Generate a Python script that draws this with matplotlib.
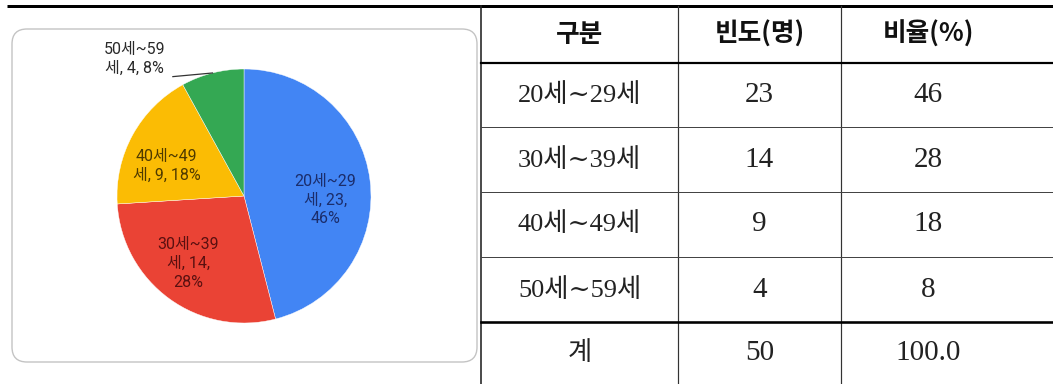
import matplotlib
matplotlib.use("Agg")
import matplotlib.pyplot as plt
from matplotlib.patches import FancyBboxPatch
import numpy as np

# ---- data ----
age_groups = ["20세~29세", "30세~39세", "40세~49세", "50세~59세"]
pie_labels = ["20세~29\n세, 23,\n46%", "30세~39\n세, 14,\n28%", "40세~49\n세, 9, 18%", "50세~59\n세, 4, 8%"]
counts = [23, 14, 9, 4]
ratios = ["46", "28", "18", "8"]
total_label = "계"
total_count = "50"
total_ratio = "100.0"
headers = ["구분", "빈도(명)", "비율(%)"]
table_groups = ["20세∼29세", "30세∼39세", "40세∼49세", "50세∼59세"]

colors = ["#4285F4", "#EA4335", "#FBBC04", "#34A853"]
label_colors = ["#1b2d6b", "#5a1010", "#4f3a00", "#2a2a2a"]

W, H = 1053, 384
fig = plt.figure(figsize=(W / 100, H / 100), dpi=100)
fig.patch.set_facecolor("white")

# background axes in pixel coordinates
bg = fig.add_axes([0, 0, 1, 1])
bg.set_xlim(0, W)
bg.set_ylim(H, 0)
bg.axis("off")

# rounded frame around the chart
frame = FancyBboxPatch((12, 29), 465, 333, boxstyle="round,pad=0,rounding_size=15",
                       facecolor="white", edgecolor="#c4c4c4", linewidth=1.0)
bg.add_patch(frame)

# table lines
px = 0.72  # points per pixel
bg.plot([7, W], [6, 6], color="black", lw=3 * px, solid_capstyle="butt")
bg.plot([481, 481], [6, H], color="#222222", lw=1.6 * px)
for x in [678, 841]:
    bg.plot([x, x], [6, H], color="#333333", lw=1.2 * px)
bg.plot([481, W], [62.5, 62.5], color="black", lw=2.2 * px)
for y in [127, 192, 257]:
    bg.plot([481, W], [y, y], color="#444444", lw=1.0 * px)
bg.plot([481, W], [322, 322], color="black", lw=2.6 * px)

col_centers = [579.5, 759.5, 928]
row_centers = [34, 95, 160, 224, 290, 353]

cell_family = ["Liberation Serif", "DejaVu Serif", "Noto Sans CJK KR"]
for c, h in zip(col_centers, headers):
    bg.text(c, row_centers[0], h, ha="center", va="center", fontsize=18.5,
            family=["Noto Sans CJK KR", "DejaVu Sans"], fontweight="bold", color="#111111")

for i, (g, n, r) in enumerate(zip(table_groups, counts, ratios)):
    y = row_centers[i + 1]
    bg.text(col_centers[0], y, g, ha="center", va="center", fontsize=19,
            family=cell_family, color="#222222")
    bg.text(col_centers[1], y, str(n), ha="center", va="center", fontsize=21,
            family=cell_family, color="#222222")
    bg.text(col_centers[2], y, r, ha="center", va="center", fontsize=21,
            family=cell_family, color="#222222")

bg.text(col_centers[0], row_centers[5], total_label, ha="center", va="center", fontsize=19,
        family=cell_family, color="#222222")
bg.text(col_centers[1], row_centers[5], total_count, ha="center", va="center", fontsize=21,
        family=cell_family, color="#222222")
bg.text(col_centers[2], row_centers[5], total_ratio, ha="center", va="center", fontsize=21,
        family=cell_family, color="#222222")

# pie axes: centre (244,196) px, radius 127 px
cx, cy, R = 244, 196, 127
pie_ax = fig.add_axes([(cx - R) / W, (H - cy - R) / H, 2 * R / W, 2 * R / H])
wedges, _ = pie_ax.pie(counts, startangle=90, counterclock=False, colors=colors, radius=1,
                       wedgeprops=dict(linewidth=0.3, edgecolor="white"))
pie_ax.set_xlim(-1, 1)
pie_ax.set_ylim(-1, 1)
pie_ax.set_aspect("equal")
pie_ax.axis("off")

label_font = ["Roboto", "Noto Sans CJK KR"]
label_pos = [(0.64, -0.03), (-0.44, -0.53), (-0.61, 0.24)]
for i in range(3):
    pie_ax.text(label_pos[i][0], label_pos[i][1], pie_labels[i], ha="center", va="center",
                fontsize=11.5, linespacing=1.3, family=label_font, color=label_colors[i])

# outside label for the small slice with leader line
w = wedges[3]
mid = np.deg2rad((w.theta1 + w.theta2) / 2)
ex, ey = np.cos(mid), np.sin(mid)
pie_ax.plot([-0.56, ex], [0.94, ey], color="#333333", lw=0.9, clip_on=False)
pie_ax.text(-0.86, 1.08, pie_labels[3], ha="center", va="center", fontsize=11.5,
            linespacing=1.3, family=label_font, color=label_colors[3], clip_on=False)

fig.savefig("out.png", dpi=100, facecolor="white")
